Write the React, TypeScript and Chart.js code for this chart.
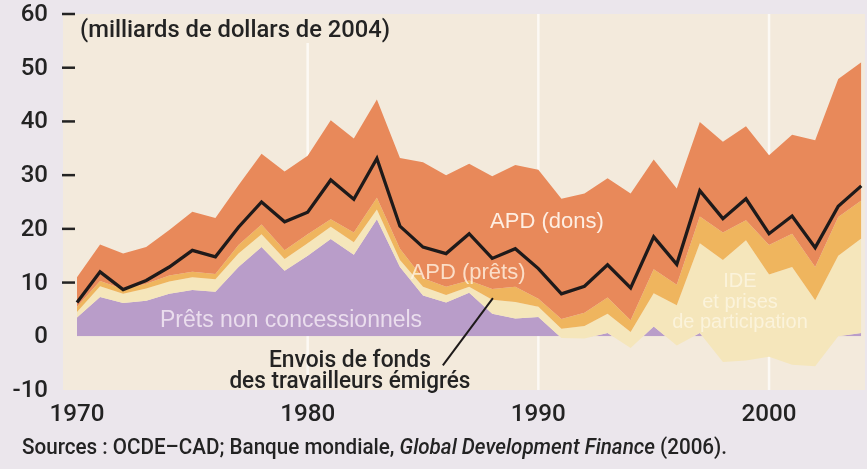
import React, { useEffect, useRef } from "react";
import { Chart, registerables } from "chart.js";

Chart.register(...registerables);

// ---- Data (milliards de dollars de 2004) ----
const years = [
  1970, 1971, 1972, 1973, 1974, 1975, 1976, 1977, 1978, 1979,
  1980, 1981, 1982, 1983, 1984, 1985, 1986, 1987, 1988, 1989,
  1990, 1991, 1992, 1993, 1994, 1995, 1996, 1997, 1998, 1999,
  2000, 2001, 2002, 2003, 2004,
];
const pretsNonConcessionnels = [
  3.5, 7.3, 6.2, 6.6, 7.9, 8.6, 8.3, 12.9, 16.6, 12.2,
  15.0, 18.1, 15.2, 21.8, 12.9, 7.6, 6.3, 8.1, 4.2, 3.3,
  3.6, -0.3, -0.4, 0.6, -2.2, 1.8, -1.7, 0.6, -4.8, -4.5,
  -3.8, -5.3, -5.6, 0.0, 0.6,
];
const ide = [
  1.0, 2.0, 1.7, 2.3, 2.3, 2.4, 2.3, 2.5, 2.4, 2.2,
  2.3, 2.3, 2.3, 1.8, 1.3, 1.6, 1.4, 1.1, 2.6, 3.1,
  1.9, 1.7, 2.3, 3.6, 3.0, 6.2, 7.5, 16.7, 19.0, 22.4,
  15.3, 18.2, 12.3, 15.0, 17.6,
];
const apdPrets = [
  1.0, 1.0, 0.9, 0.9, 1.1, 1.0, 1.0, 1.6, 1.8, 1.6,
  1.7, 1.4, 1.8, 2.2, 2.1, 1.6, 1.5, 1.2, 2.0, 2.8,
  1.5, 1.8, 2.5, 3.0, 2.2, 4.5, 3.8, 5.0, 5.1, 3.7,
  5.5, 6.2, 6.2, 7.2, 7.1,
];
const apdDons = [
  5.5, 6.8, 6.6, 6.8, 8.5, 11.2, 10.4, 11.1, 13.2, 14.7,
  14.6, 18.4, 17.5, 18.3, 16.9, 21.6, 20.8, 21.7, 21.0, 22.7,
  24.0, 22.4, 22.2, 22.2, 23.6, 20.4, 17.9, 17.6, 16.9, 17.5,
  16.7, 18.4, 23.6, 25.7, 25.7,
];
const envoisDeFonds = [
  6.3, 12.0, 8.7, 10.4, 12.9, 16.0, 14.8, 20.3, 25.0, 21.3,
  23.1, 29.1, 25.5, 33.1, 20.5, 16.6, 15.4, 19.1, 14.5, 16.3,
  12.6, 7.9, 9.3, 13.3, 9.0, 18.5, 13.4, 27.1, 21.9, 25.6,
  19.1, 22.4, 16.5, 24.2, 28.0,
];

const yTickLabels = [60, 50, 40, 30, 20, 10, 0, -10];
const yTickMarks = [60, 50, 40, 30, 20, 10];
const xTickLabels = [1970, 1980, 1990, 2000];
const gridYears = [1980, 1990, 2000];

const unitTitle = "(milliards de dollars de 2004)";
const sourceParts = [
  { text: "Sources : OCDE–CAD; Banque mondiale, ", italic: false },
  { text: "Global Development Finance", italic: true },
  { text: " (2006).", italic: false },
];

// Annotation labels positioned in data coordinates (year, value of baseline)
const areaLabels = [
  { lines: ["APD (dons)"], x: 1990.37, y: 20.1, color: "rgba(255,246,238,0.92)", size: 22 },
  { lines: ["APD (prêts)"], x: 1986.95, y: 10.6, color: "rgba(255,244,228,0.8)", size: 22 },
  { lines: ["Prêts non concessionnels"], x: 1979.28, y: 1.7, color: "rgba(246,238,246,0.8)", size: 23 },
  { lines: ["IDE", "et prises", "de participation"], x: 1998.74, y: 9.1, color: "rgba(255,252,240,0.6)", size: 20, step: 3.8 },
];
const envoisLabel = { lines: ["Envois de fonds", "des travailleurs émigrés"], x: 1981.83, y: -5.8, step: 3.9 };
const leader = { from: { x: 1985.86, y: -5.4 }, to: { x: 1988.03, y: 7.1 } };

const FONT = "'Liberation Sans', Arial, Helvetica, sans-serif";
const ROBOTO = "Roboto, 'Liberation Sans', Arial, sans-serif";
const HEAVY = `500 24px ${ROBOTO}`;
const COLORS = {
  page: "#ebe6ec",
  plot: "#f3eadc",
  grid: "#fcf9f4",
  orange: "#e8895a",
  yellow: "#efb55e",
  cream: "#f5e6bb",
  purple: "#b99dc9",
  line: "#1e1a1a",
  text: "#232323",
};

// draw text horizontally scaled to fit a given width
function fitText(ctx: CanvasRenderingContext2D, text: string, x: number, y: number, width: number, align: "left" | "center") {
  const w = ctx.measureText(text).width;
  const k = width / w;
  ctx.save();
  ctx.translate(x, y);
  ctx.scale(k, 1);
  ctx.textAlign = align;
  ctx.fillText(text, 0, 0);
  ctx.restore();
}

export default function App() {
  const ref = useRef<HTMLCanvasElement | null>(null);

  useEffect(() => {
    document.body.style.margin = "0";
    const canvas = ref.current;
    if (!canvas) return;

    const c1 = pretsNonConcessionnels.map((v) => v);
    const c2 = c1.map((v, i) => v + ide[i]);
    const c3 = c2.map((v, i) => v + apdPrets[i]);
    const c4 = c3.map((v, i) => v + apdDons[i]);
    const xy = (arr: number[]) => years.map((x, i) => ({ x, y: arr[i] }));

    const bgPlugin = {
      id: "bgPlugin",
      beforeDraw(chart: any) {
        const { ctx, chartArea: a, scales } = chart;
        ctx.save();
        ctx.fillStyle = COLORS.page;
        ctx.fillRect(0, 0, chart.width, chart.height);
        ctx.fillStyle = COLORS.plot;
        ctx.fillRect(a.left, a.top, a.right - a.left, a.bottom - a.top);
        ctx.strokeStyle = COLORS.grid;
        ctx.lineWidth = 2.5;
        gridYears.forEach((yr) => {
          const px = scales.x.getPixelForValue(yr);
          ctx.beginPath();
          ctx.moveTo(px, a.top);
          ctx.lineTo(px, a.bottom);
          ctx.stroke();
        });
        ctx.restore();
      },
    };

    const textPlugin = {
      id: "textPlugin",
      afterDatasetsDraw(chart: any) {
        const { ctx, scales } = chart;
        const sx = scales.x, sy = scales.y;
        ctx.save();
        ctx.textAlign = "center";
        ctx.textBaseline = "alphabetic";
        areaLabels.forEach((l) => {
          ctx.font = `${l.size}px ${FONT}`;
          ctx.fillStyle = l.color;
          l.lines.forEach((t, k) => {
            ctx.fillText(t, sx.getPixelForValue(l.x), sy.getPixelForValue(l.y - k * (l.step || 0)));
          });
        });
        // Envois label + leader
        ctx.font = `500 23px ${ROBOTO}`;
        ctx.fillStyle = COLORS.text;
        const envW = [162, 241];
        envoisLabel.lines.forEach((t, k) => {
          fitText(ctx, t, sx.getPixelForValue(envoisLabel.x), sy.getPixelForValue(envoisLabel.y - k * envoisLabel.step), envW[k], "center");
        });
        ctx.strokeStyle = COLORS.line;
        ctx.lineWidth = 2;
        ctx.beginPath();
        ctx.moveTo(sx.getPixelForValue(leader.from.x), sy.getPixelForValue(leader.from.y));
        ctx.lineTo(sx.getPixelForValue(leader.to.x), sy.getPixelForValue(leader.to.y));
        ctx.stroke();
        ctx.restore();
      },
      afterDraw(chart: any) {
        const { ctx, chartArea: a, scales } = chart;
        const sx = scales.x, sy = scales.y;
        ctx.save();
        ctx.textBaseline = "alphabetic";
        // unit title with background patch
        ctx.fillStyle = COLORS.plot;
        ctx.fillRect(a.left + 14, a.top, 322, 29);
        ctx.fillStyle = COLORS.text;
        ctx.font = HEAVY;
        fitText(ctx, unitTitle, a.left + 17, a.top + 23, 310, "left");

        // y tick labels and marks
        ctx.textAlign = "right";
        ctx.textBaseline = "middle";
        ctx.font = HEAVY;
        yTickLabels.forEach((v) => {
          ctx.fillText(String(v), a.left - 15, sy.getPixelForValue(v) + 1);
        });
        ctx.strokeStyle = COLORS.text;
        ctx.lineWidth = 2.5;
        yTickMarks.forEach((v) => {
          const py = sy.getPixelForValue(v);
          ctx.beginPath();
          ctx.moveTo(a.left - 1, py);
          ctx.lineTo(a.left + 12, py);
          ctx.stroke();
        });
        // x tick labels
        ctx.textAlign = "center";
        ctx.textBaseline = "alphabetic";
        xTickLabels.forEach((yr) => {
          fitText(ctx, String(yr), sx.getPixelForValue(yr), a.bottom + 31, 55, "center");
        });
        // source line (condensed)
        const fs = 22;
        let total = 0;
        const widths = sourceParts.map((p) => {
          ctx.font = `${p.italic ? "italic " : ""}500 ${fs}px ${ROBOTO}`;
          const w = ctx.measureText(p.text).width;
          total += w;
          return w;
        });
        const k = 705 / total;
        ctx.save();
        ctx.translate(22, a.bottom + 64);
        ctx.scale(k, 1);
        ctx.textAlign = "left";
        let xx = 0;
        sourceParts.forEach((p, i) => {
          ctx.font = `${p.italic ? "italic " : ""}500 ${fs}px ${ROBOTO}`;
          ctx.fillText(p.text, xx, 0);
          xx += widths[i];
        });
        ctx.restore();
        ctx.restore();
      },
    };

    const chart = new Chart(canvas, {
      type: "line",
      data: {
        datasets: [
          {
            label: "Envois de fonds des travailleurs émigrés",
            data: xy(envoisDeFonds),
            borderColor: COLORS.line,
            borderWidth: 3.3,
            borderJoinStyle: "miter",
            fill: false,
          },
          {
            label: "APD (dons)",
            data: xy(c4),
            borderWidth: 0,
            borderColor: "rgba(0,0,0,0)",
            backgroundColor: COLORS.orange,
            fill: "+1",
          },
          {
            label: "APD (prêts)",
            data: xy(c3),
            borderWidth: 0,
            borderColor: "rgba(0,0,0,0)",
            backgroundColor: COLORS.yellow,
            fill: "+1",
          },
          {
            label: "IDE et prises de participation",
            data: xy(c2),
            borderWidth: 0,
            borderColor: "rgba(0,0,0,0)",
            backgroundColor: COLORS.cream,
            fill: "+1",
          },
          {
            label: "Prêts non concessionnels",
            data: xy(c1),
            borderWidth: 0,
            borderColor: "rgba(0,0,0,0)",
            backgroundColor: COLORS.purple,
            fill: { target: "origin", above: COLORS.purple, below: "rgba(0,0,0,0)" },
          },
        ],
      },
      options: {
        responsive: false,
        animation: false,
        events: [],
        layout: { padding: { left: 63, top: 14, right: 2, bottom: 79 } },
        elements: { point: { radius: 0 }, line: { tension: 0 } },
        scales: {
          x: { type: "linear", min: 1969.393, max: 2004.16, display: false },
          y: { type: "linear", min: -10, max: 60, display: false },
        },
        plugins: { legend: { display: false }, tooltip: { enabled: false } },
      } as any,
      plugins: [bgPlugin, textPlugin],
    } as any);

    return () => chart.destroy();
  }, []);

  return (
    <div style={{ position: "absolute", left: 0, top: 0, width: 867, height: 469 }}>
      <canvas ref={ref} width={867} height={469} style={{ display: "block", width: 867, height: 469 }} />
    </div>
  );
}
